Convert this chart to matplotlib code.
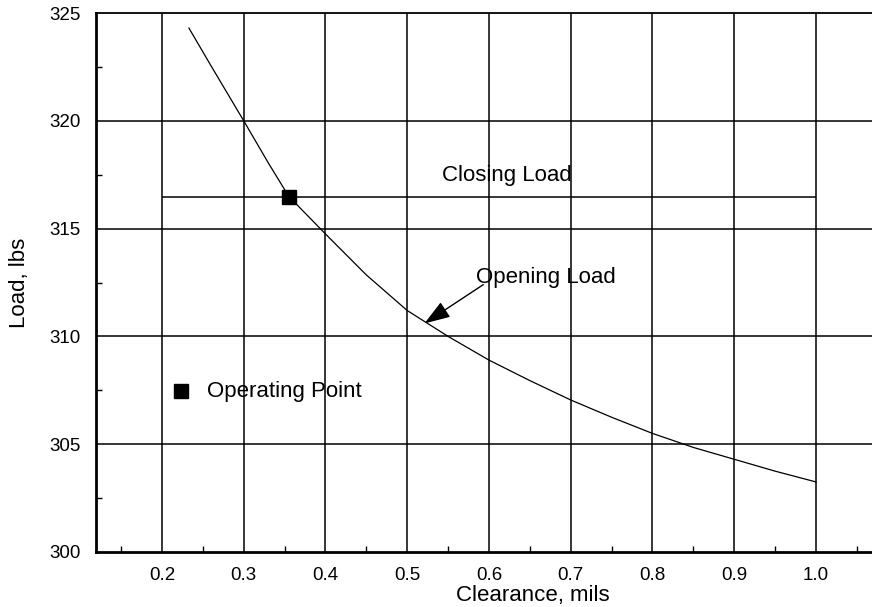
import matplotlib
matplotlib.use("Agg")
import matplotlib.pyplot as plt
from matplotlib.ticker import MultipleLocator

plt.rcParams['font.family'] = ['Liberation Sans', 'DejaVu Sans']

# opening load curve
clearance = [0.233, 0.26, 0.30, 0.33, 0.355, 0.40, 0.45, 0.50, 0.55, 0.60,
             0.65, 0.70, 0.75, 0.80, 0.85, 0.90, 0.95, 1.00]
opening_load = [324.3, 322.55, 320.0, 318.05, 316.5, 314.75, 312.85, 311.2, 310.0, 308.9,
                307.95, 307.05, 306.25, 305.5, 304.85, 304.3, 303.75, 303.25]

closing_load = 316.45
closing_span = [0.2, 1.0]
closing_point = (0.355, 316.45)
operating_point = (0.223, 307.45)

x_ticks = [0.2, 0.3, 0.4, 0.5, 0.6, 0.7, 0.8, 0.9, 1.0]
x_ticklabels = ['0.2', '0.3', '0.4', '0.5', '0.6', '0.7', '0.8', '0.9', '1.0']
y_ticks = [300, 305, 310, 315, 320, 325]

fig = plt.figure(figsize=(8.72, 6.07), dpi=100)
ax = fig.add_axes([96 / 872, 55 / 607, 776 / 872, 539 / 607])
ax.set_xlim(0.1193, 1.0685)
ax.set_ylim(300, 325)

# grid
for xv in x_ticks:
    ax.axvline(xv, color='black', lw=1.1, zorder=1)
for yv in y_ticks[1:-1]:
    ax.axhline(yv, color='black', lw=1.1, zorder=1)

ax.plot(clearance, opening_load, color='black', lw=0.9, zorder=2)
ax.hlines(closing_load, closing_span[0], closing_span[1], color='black', lw=1.1, zorder=2)
ax.plot(*closing_point, marker='s', ms=9.5, color='black', ls='none', zorder=3)
ax.plot(*operating_point, marker='s', ms=9.5, color='black', ls='none', zorder=3)

ax.text(0.543, 317.2, 'Closing Load', fontsize=16, va='baseline', ha='left')
ax.text(0.584, 312.5, 'Opening Load', fontsize=16, va='baseline', ha='left')
ax.text(0.255, 307.2, 'Operating Point', fontsize=16, va='baseline', ha='left')
ax.annotate('', xy=(0.521, 310.6), xytext=(0.593, 312.4),
            arrowprops=dict(arrowstyle='-|>,head_length=1.6,head_width=0.55',
                            color='black', lw=1.0, shrinkA=0, shrinkB=0))

ax.set_xticks(x_ticks)
ax.set_xticklabels(x_ticklabels)
ax.set_yticks(y_ticks)
ax.xaxis.set_minor_locator(MultipleLocator(0.05))
ax.yaxis.set_minor_locator(MultipleLocator(2.5))
ax.tick_params(which='major', length=0, labelsize=13.5, pad=11)
ax.tick_params(which='minor', direction='in', length=4, width=1)

ax.spines['right'].set_visible(False)
ax.spines['left'].set_linewidth(2)
ax.spines['bottom'].set_linewidth(2)
ax.spines['top'].set_linewidth(1.3)

ax.set_xlabel('Clearance, mils', fontsize=16)
ax.xaxis.set_label_coords(0.563, -0.062)
ax.set_ylabel('Load, lbs', fontsize=16)
ax.yaxis.set_label_coords(-0.085, 0.5)

fig.savefig('out.png', dpi=100)
